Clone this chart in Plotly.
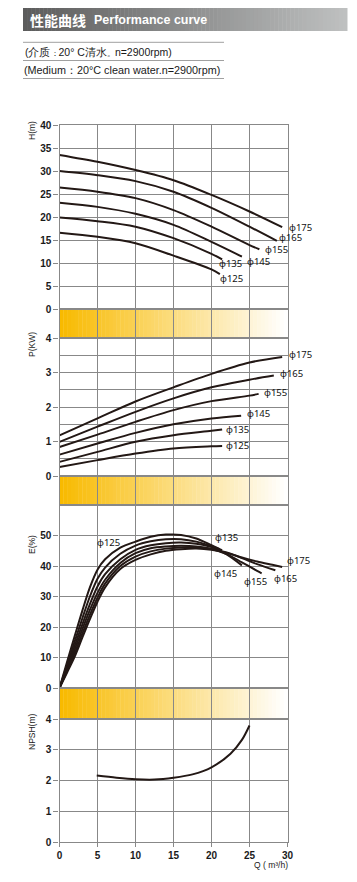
import plotly.graph_objects as go

W, H_PX = 357, 882
OFF = 8  # page body margin offset (px)

# ---------------- data ----------------
diameters = ["175", "165", "155", "145", "135", "125"]

# Head H(m)
h_q = {
    "175": [0, 5, 10, 15, 20, 25, 29.3],
    "165": [0, 5, 10, 15, 20, 25, 28.6],
    "155": [0, 5, 10, 15, 20, 25, 26.3],
    "145": [0, 5, 10, 15, 20, 24],
    "135": [0, 5, 10, 15, 20, 21.4],
    "125": [0, 5, 10, 15, 20, 21.1],
}
h_val = {
    "175": [33.5, 32.0, 30.2, 28.0, 24.8, 21.2, 17.8],
    "165": [30.0, 29.1, 27.8, 25.5, 22.0, 17.9, 14.8],
    "155": [26.4, 25.5, 24.1, 21.5, 17.9, 13.9, 13.0],
    "145": [23.1, 22.2, 20.7, 18.3, 14.6, 11.4],
    "135": [19.9, 19.1, 17.9, 15.4, 12.0, 10.8],
    "125": [16.6, 15.7, 14.3, 11.6, 8.6, 7.6],
}
h_label_pos = {  # (Q, H) of label left edge
    "175": (29.9, 17.8), "165": (28.6, 15.5), "155": (26.8, 12.9),
    "145": (24.4, 10.4), "135": (20.7, 9.8), "125": (20.9, 6.7),
}

# Power P(kW)
p_q = {
    "175": [0, 5, 10, 15, 20, 25, 29.3],
    "165": [0, 5, 10, 15, 20, 25, 28.2],
    "155": [0, 5, 10, 15, 20, 25, 26.2],
    "145": [0, 5, 10, 15, 20, 23.9],
    "135": [0, 5, 10, 15, 20, 21.4],
    "125": [0, 5, 10, 15, 20, 21.4],
}
p_val = {
    "175": [1.18, 1.67, 2.16, 2.57, 2.96, 3.29, 3.45],
    "165": [0.99, 1.43, 1.86, 2.25, 2.57, 2.79, 2.91],
    "155": [0.84, 1.20, 1.57, 1.91, 2.17, 2.33, 2.38],
    "145": [0.62, 0.94, 1.25, 1.50, 1.67, 1.75],
    "135": [0.41, 0.70, 0.99, 1.18, 1.31, 1.35],
    "125": [0.26, 0.46, 0.65, 0.80, 0.86, 0.87],
}
p_label_pos = {
    "175": (29.95, 3.51), "165": (28.75, 2.96), "155": (26.6, 2.43),
    "145": (24.4, 1.80), "135": (21.6, 1.36), "125": (21.6, 0.87),
}

# Efficiency E(%)
e_q = {
    "125": [0, 1, 2, 3, 4, 5, 6, 8, 10, 12, 14, 16, 18, 20, 21.1],
    "135": [0, 1, 2, 3, 4, 5, 6, 8, 10, 12, 14, 16, 18, 20, 21.4],
    "145": [0, 1, 2, 3, 4, 5, 6, 8, 10, 12, 14, 16, 18, 20, 22, 24],
    "155": [0, 1, 2, 3, 4, 5, 6, 8, 10, 12, 14, 16, 18, 20, 22, 24, 26, 26.6],
    "165": [0, 1, 2, 3, 4, 5, 6, 8, 10, 12, 14, 16, 18, 20, 22, 24, 26, 28.4],
    "175": [0, 1, 2, 3, 4, 5, 6, 8, 10, 12, 14, 16, 18, 20, 22, 24, 26, 28, 29.3],
}
e_val = {
    "125": [0, 8.6, 17.0, 25.3, 33.0, 38.8, 42.2, 46.0, 48.0, 49.6, 50.3, 50.2, 49.0, 46.8, 45.5],
    "135": [0, 7.6, 15.2, 22.8, 30.0, 35.8, 39.5, 44.0, 46.7, 48.1, 48.8, 48.8, 48.0, 46.5, 45.2],
    "145": [0, 6.8, 13.8, 20.8, 27.5, 33.3, 37.3, 42.2, 45.3, 46.8, 47.5, 47.7, 47.3, 46.2, 43.8, 40.2],
    "155": [0, 6.2, 12.6, 19.2, 25.6, 31.2, 35.5, 41.0, 44.2, 45.8, 46.4, 46.6, 46.4, 45.6, 43.9, 41.2, 38.4, 37.6],
    "165": [0, 5.6, 11.4, 17.8, 24.0, 29.6, 34.2, 40.0, 43.1, 44.8, 45.7, 46.1, 46.1, 45.6, 44.4, 42.6, 40.6, 38.6],
    "175": [0, 5.1, 10.3, 16.5, 22.6, 28.3, 33.0, 39.0, 42.0, 43.8, 45.0, 45.5, 45.7, 45.3, 44.3, 42.8, 41.5, 40.4, 39.7],
}
e_label_pos = {
    "125": (4.7, 47.6), "135": (20.2, 49.3), "145": (20.0, 37.6),
    "155": (24.0, 34.9), "165": (27.9, 36.0), "175": (29.7, 41.7),
}

# NPSH(m)
npsh_q = [4.9, 7.5, 10, 12.5, 15, 17.5, 20, 22.5, 24, 25]
npsh_val = [2.16, 2.09, 2.04, 2.03, 2.09, 2.20, 2.43, 2.87, 3.32, 3.79]

q_ticks = [0, 5, 10, 15, 20, 25, 30]

# ---------------- layout helpers ----------------
def py(px):  # page pixel row -> paper y
    return 1 - (px - OFF) / H_PX

def pxx(px):  # page pixel col -> paper x
    return (px - OFF) / W

X_DOM = [pxx(59.5), pxx(287.5)]
panels = [
    (125, 309),  # 1 H
    (309, 338),  # 2 band
    (338, 476),  # 3 P
    (476, 505),  # 4 band
    (505, 688),  # 5 E
    (688, 719),  # 6 band
    (719, 842),  # 7 NPSH
]

GRID = "#888888"
CURVE = "#231815"
FONT = "Liberation Sans, Arial, sans-serif"
TICKFONT = dict(family=FONT, size=10, color="#1a1a1a", weight="bold")
LABELFONT = dict(family="Noto Sans, DejaVu Sans, sans-serif", size=9.5, color="#111111")

fig = go.Figure()

def add_curve(q, v, n):
    ax = "" if n == 1 else str(n)
    fig.add_trace(go.Scatter(
        x=q, y=v, mode="lines", xaxis="x" + ax, yaxis="y" + ax,
        line=dict(color=CURVE, width=2, shape="spline", smoothing=0.9),
        hoverinfo="skip", showlegend=False))

for d in diameters:
    add_curve(h_q[d], h_val[d], 1)
    add_curve(p_q[d], p_val[d], 3)
    add_curve(e_q[d], e_val[d], 5)
add_curve(npsh_q, npsh_val, 7)

layout = dict(
    template="none",
    width=W, height=H_PX, margin=dict(l=0, r=0, t=0, b=0, autoexpand=False),
    paper_bgcolor="white", plot_bgcolor="white", showlegend=False,
)

for i, (top, bot) in enumerate(panels, start=1):
    ax = "" if i == 1 else str(i)
    xa = dict(
        domain=X_DOM, range=[0, 30], anchor="y" + ax, automargin=False,
        tickvals=q_ticks, showgrid=True, gridcolor=GRID, gridwidth=1.3,
        showline=True, linecolor=GRID, linewidth=1.3, mirror=True,
        zeroline=False, showticklabels=False, ticks="",
        fixedrange=True,
    )
    if i != 7:
        xa["matches"] = "x7"
    else:
        xa.update(showticklabels=True, ticks="outside", ticklen=4,
                  tickcolor=GRID, tickwidth=1.3, tickfont=TICKFONT)
    layout["xaxis" + ax] = xa
    ya = dict(
        domain=[py(bot), py(top)], anchor="x" + ax, automargin=False,
        showline=True, linecolor=GRID, linewidth=1.3, mirror=True,
        zeroline=False, showgrid=True, gridcolor=GRID, gridwidth=1.3,
        ticks="outside", ticklen=5, tickcolor=GRID, tickwidth=1.3,
        tickfont=TICKFONT, fixedrange=True,
    )
    if i == 1:
        ya.update(range=[0, 40], tickvals=[0, 5, 10, 15, 20, 25, 30, 35, 40])
    elif i == 3:
        ya.update(range=[0, 4], tickvals=[0, 1, 2, 3, 4],
                  minor=dict(dtick=0.5, showgrid=True, gridcolor=GRID, gridwidth=1.3, ticks=""))
    elif i == 5:
        ya.update(range=[0, 60], tickvals=[0, 10, 20, 30, 40, 50])
    elif i == 7:
        ya.update(range=[0, 4], tickvals=[0, 1, 2, 3, 4])
    else:
        ya.update(range=[0, 1], showgrid=False, showticklabels=False, ticks="")
    layout["yaxis" + ax] = ya

fig.update_layout(**layout)

shapes = []
# yellow gradient bands (below grid lines)
C0 = (248, 186, 0)
C1 = (255, 255, 255)
NS = 60
for n in (2, 4, 6):
    for k in range(NS):
        t = k / (NS - 1)
        c = tuple(round(C0[j] + (C1[j] - C0[j]) * t) for j in range(3))
        shapes.append(dict(
            type="rect", xref="x%d" % n, yref="y%d domain" % n,
            x0=30 * k / NS, x1=30 * (k + 1) / NS + 0.05, y0=0, y1=1,
            fillcolor="rgb(%d,%d,%d)" % c, line=dict(width=0), layer="below"))

# header grey gradient bar
HB0 = (92, 92, 92)
HB1 = (190, 192, 192)
NH = 80
hx0, hx1 = 23, 347
for k in range(NH):
    t = k / (NH - 1)
    c = tuple(round(HB0[j] + (HB1[j] - HB0[j]) * t) for j in range(3))
    shapes.append(dict(
        type="rect", xref="paper", yref="paper",
        x0=pxx(hx0 + (hx1 - hx0) * k / NH), x1=pxx(hx0 + (hx1 - hx0) * (k + 1) / NH + 0.5),
        y0=py(31), y1=py(8),
        fillcolor="rgb(%d,%d,%d)" % c, line=dict(width=0), layer="below"))

# subtitle rules
for yy in (42.3, 60.5, 78.5):
    shapes.append(dict(type="line", xref="paper", yref="paper",
                       x0=pxx(23), x1=pxx(224), y0=py(yy), y1=py(yy),
                       line=dict(color="#a0a0a0", width=1)))
fig.update_layout(shapes=shapes)

ann = []
ann.append(dict(text="<b>性能曲线</b>", x=pxx(28), y=py(19.8), xref="paper", yref="paper",
                xanchor="left", yanchor="middle", showarrow=False,
                font=dict(family="Noto Sans CJK SC", size=14, color="white")))
ann.append(dict(text="<b>Performance curve</b>", x=pxx(92), y=py(20), xref="paper", yref="paper",
                xanchor="left", yanchor="middle", showarrow=False,
                font=dict(family=FONT, size=12.5, color="white")))
SP = '<span style="font-size:8px">%s</span>'
ann.append(dict(text="(介质" + SP % "：" + "20° C清水" + SP % "。" + "n=2900rpm)",
                x=pxx(23), y=py(52), xref="paper", yref="paper",
                xanchor="left", yanchor="middle", showarrow=False,
                font=dict(family=FONT, size=10.5, color="#1a1a1a")))
ann.append(dict(text="(Medium：20°C clean water.n=2900rpm)", x=pxx(22), y=py(70.5), xref="paper", yref="paper",
                xanchor="left", yanchor="middle", showarrow=False,
                font=dict(family=FONT, size=10.8, color="#1a1a1a")))

for txt, cy in (("H(m)", 131), ("P(KW)", 345), ("E(%)", 545), ("NPSH(m)", 732)):
    ann.append(dict(text=txt, x=pxx(32), y=py(cy), xref="paper", yref="paper",
                    xanchor="center", yanchor="middle", textangle=-90, showarrow=False,
                    font=dict(family=FONT, size=8.5, color="#1a1a1a")))

ann.append(dict(text="Q ( m³/h)", x=pxx(290), y=py(865), xref="paper", yref="paper",
                xanchor="right", yanchor="middle", showarrow=False,
                font=dict(family=FONT, size=8.5, color="#1a1a1a")))

for pos, n in ((h_label_pos, 1), (p_label_pos, 3), (e_label_pos, 5)):
    ax = "" if n == 1 else str(n)
    for d in diameters:
        qx, vy = pos[d]
        ann.append(dict(text="ϕ" + d, x=qx, y=vy, xref="x" + ax, yref="y" + ax,
                        xanchor="left", yanchor="middle", showarrow=False,
                        font=LABELFONT))
fig.update_layout(annotations=ann)

fig.write_html("out.html")
